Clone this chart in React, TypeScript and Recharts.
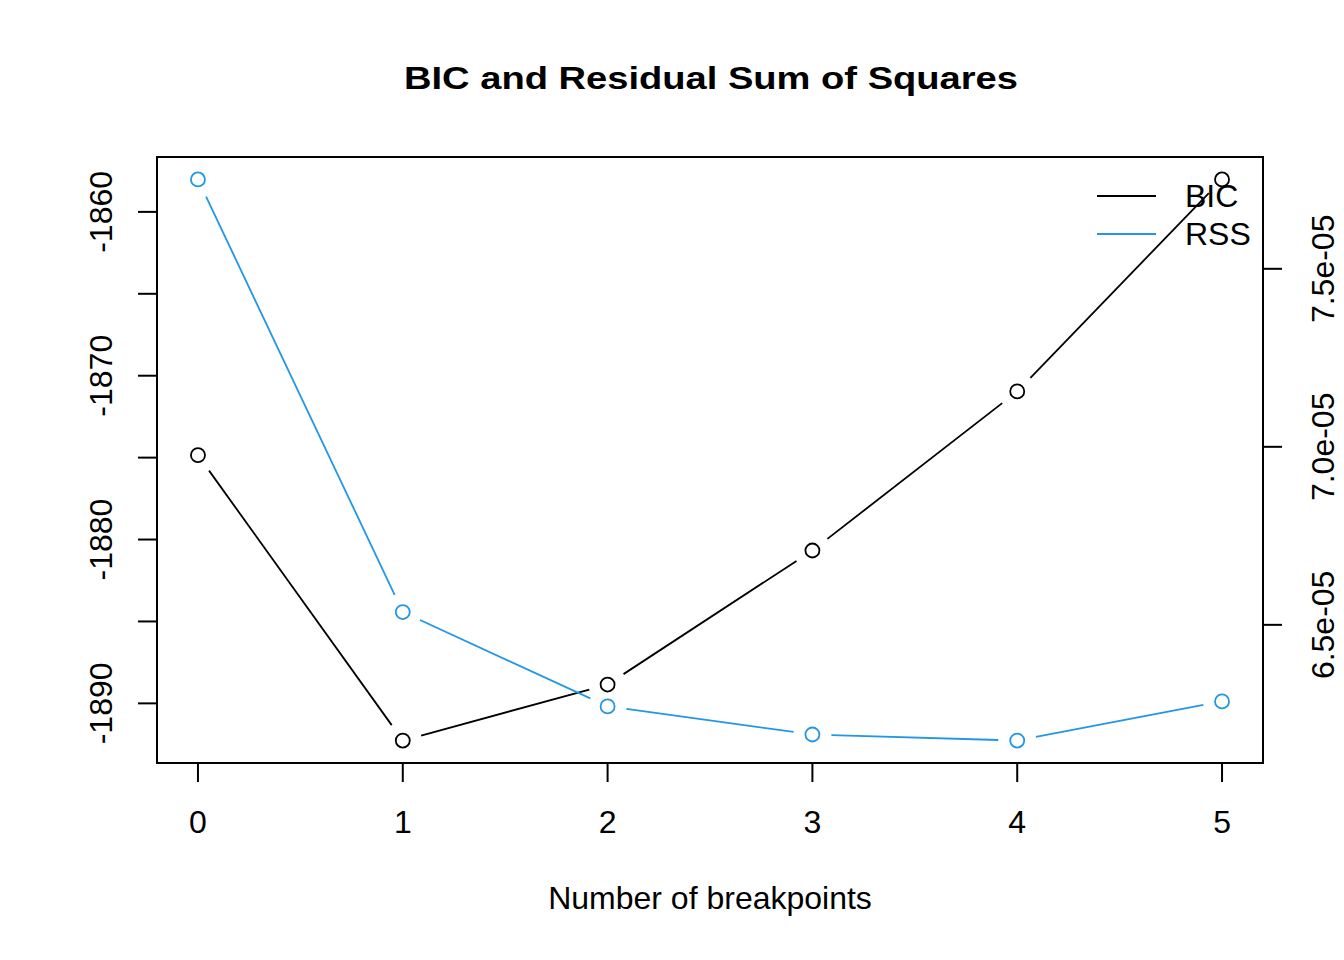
import React from 'react';
import { LineChart, Line, XAxis, YAxis, ReferenceArea, Legend } from 'recharts';

const breakpoints = [0, 1, 2, 3, 4, 5];
const bicValues = [-1874.85, -1892.27, -1888.85, -1880.67, -1870.96, -1858.02];
const rssValues = [7.751e-5, 6.536e-5, 6.271e-5, 6.192e-5, 6.175e-5, 6.285e-5];
const xTicks = [0, 1, 2, 3, 4, 5];
const bicTicks = [-1890, -1885, -1880, -1875, -1870, -1865, -1860];
const bicLabeledTicks = [-1890, -1880, -1870, -1860];
const rssTicks = [6.5e-5, 7.0e-5, 7.5e-5];
const rssTickLabels = ['6.5e-05', '7.0e-05', '7.5e-05'];
const seriesNames = ['BIC', 'RSS'];
const seriesColors = ['#000000', '#2297E6'];
const titleText = 'BIC and Residual Sum of Squares';
const xLabelText = 'Number of breakpoints';

const data = breakpoints.map((b, i) => ({ breaks: b, BIC: bicValues[i], RSS: rssValues[i] }));

const W = 1344;
const H = 960;
const PLOT_LEFT = 157;
const PLOT_RIGHT = 1263;
const PLOT_TOP = 157;
const PLOT_BOTTOM = 763;
const FONT = '"Liberation Sans", Arial, Helvetica, sans-serif';
const GAP = 19;

function rExtend(vals: number[]): [number, number] {
  const mn = Math.min(...vals);
  const mx = Math.max(...vals);
  const d = (mx - mn) * 0.04;
  return [mn - d, mx + d];
}

const xDomain = rExtend(breakpoints);
const bicDomain = rExtend(bicValues);
const rssDomain = rExtend(rssValues);

const makeDot = (color: string) => (props: any) => {
  const { cx, cy, index, points } = props;
  let seg: any = null;
  if (points && index < points.length - 1) {
    const n = points[index + 1];
    const dx = n.x - cx;
    const dy = n.y - cy;
    const len = Math.hypot(dx, dy);
    if (len > 2 * GAP) {
      const ux = dx / len;
      const uy = dy / len;
      seg = (
        <line
          x1={cx + ux * GAP}
          y1={cy + uy * GAP}
          x2={n.x - ux * GAP}
          y2={n.y - uy * GAP}
          stroke={color}
          strokeWidth={1.8}
        />
      );
    }
  }
  return (
    <g key={`dot-${color}-${index}`}>
      {seg}
      <circle cx={cx} cy={cy} r={7} fill="none" stroke={color} strokeWidth={1.8} />
    </g>
  );
};

const XTick = (props: any) => {
  const { x, payload } = props;
  return (
    <text x={x} y={PLOT_BOTTOM + 70} textAnchor="middle" fontSize={32} fontFamily={FONT} fill="#000">
      {String(payload.value)}
    </text>
  );
};

const LeftTick = (props: any) => {
  const { y, payload } = props;
  if (!bicLabeledTicks.includes(payload.value)) return <g />;
  return (
    <text
      transform={`translate(112, ${y}) rotate(-90)`}
      textAnchor="middle"
      fontSize={32}
      fontFamily={FONT}
      fill="#000"
    >
      {String(payload.value)}
    </text>
  );
};

const RightTick = (props: any) => {
  const { y, payload } = props;
  const idx = rssTicks.findIndex((t) => Math.abs(t - payload.value) < 1e-9);
  const label = idx >= 0 ? rssTickLabels[idx] : '';
  return (
    <text
      transform={`translate(1334, ${y}) rotate(-90)`}
      textAnchor="middle"
      fontSize={32}
      fontFamily={FONT}
      fill="#000"
    >
      {label}
    </text>
  );
};

const LegendContent = () => (
  <svg width={220} height={90} style={{ display: 'block', overflow: 'visible' }}>
    {seriesNames.map((name, i) => (
      <g key={name}>
        <line x1={7} x2={66} y1={21 + i * 38} y2={21 + i * 38} stroke={seriesColors[i]} strokeWidth={1.8} />
        <text x={95} y={32 + i * 38} fontSize={32} fontFamily={FONT} fill="#000">
          {name}
        </text>
      </g>
    ))}
  </svg>
);

export default function App() {
  return (
    <div style={{ position: 'absolute', left: 0, top: 0, width: W, height: H, background: '#fff' }}>
      <LineChart
        width={W}
        height={H}
        data={data}
        margin={{ top: PLOT_TOP, right: 0, bottom: 0, left: 0 }}
      >
        <XAxis
          dataKey="breaks"
          type="number"
          domain={xDomain}
          ticks={xTicks}
          interval={0}
          height={H - PLOT_BOTTOM}
          axisLine={false}
          tickSize={19}
          tickLine={{ stroke: '#000', strokeWidth: 2 }}
          tick={<XTick />}
          allowDataOverflow
        />
        <YAxis
          yAxisId="left"
          orientation="left"
          type="number"
          domain={bicDomain}
          ticks={bicTicks}
          interval={0}
          width={PLOT_LEFT}
          axisLine={false}
          tickSize={19}
          tickLine={{ stroke: '#000', strokeWidth: 2 }}
          tick={<LeftTick />}
          allowDataOverflow
        />
        <YAxis
          yAxisId="right"
          orientation="right"
          type="number"
          domain={rssDomain}
          ticks={rssTicks}
          interval={0}
          width={W - PLOT_RIGHT}
          axisLine={false}
          tickSize={19}
          tickLine={{ stroke: '#000', strokeWidth: 2 }}
          tick={<RightTick />}
          allowDataOverflow
        />
        <ReferenceArea
          yAxisId="left"
          x1={xDomain[0]}
          x2={xDomain[1]}
          y1={bicDomain[0]}
          y2={bicDomain[1]}
          fill="none"
          fillOpacity={0}
          stroke="#000"
          strokeWidth={2}
          ifOverflow="visible"
        />
        <Line
          yAxisId="left"
          dataKey="BIC"
          name={seriesNames[0]}
          stroke="none"
          strokeWidth={0}
          dot={makeDot(seriesColors[0])}
          activeDot={false}
          isAnimationActive={false}
        />
        <Line
          yAxisId="right"
          dataKey="RSS"
          name={seriesNames[1]}
          stroke="none"
          strokeWidth={0}
          dot={makeDot(seriesColors[1])}
          activeDot={false}
          isAnimationActive={false}
        />
        <Legend
          layout="horizontal"
          verticalAlign="middle"
          align="center"
          content={<LegendContent />}
          wrapperStyle={{ position: 'absolute', left: 1090, top: 175, width: 220, height: 90 }}
        />
      </LineChart>
      <svg
        width={W}
        height={H}
        style={{ position: 'absolute', left: 0, top: 0, pointerEvents: 'none' }}
      >
        <text
          x={404}
          y={89}
          fontSize={31}
          fontWeight="bold"
          fontFamily={FONT}
          textLength={614}
          lengthAdjust="spacingAndGlyphs"
          fill="#000"
        >
          {titleText}
        </text>
        <text x={(PLOT_LEFT + PLOT_RIGHT) / 2} y={909} textAnchor="middle" fontSize={32} fontFamily={FONT} fill="#000">
          {xLabelText}
        </text>
      </svg>
    </div>
  );
}
